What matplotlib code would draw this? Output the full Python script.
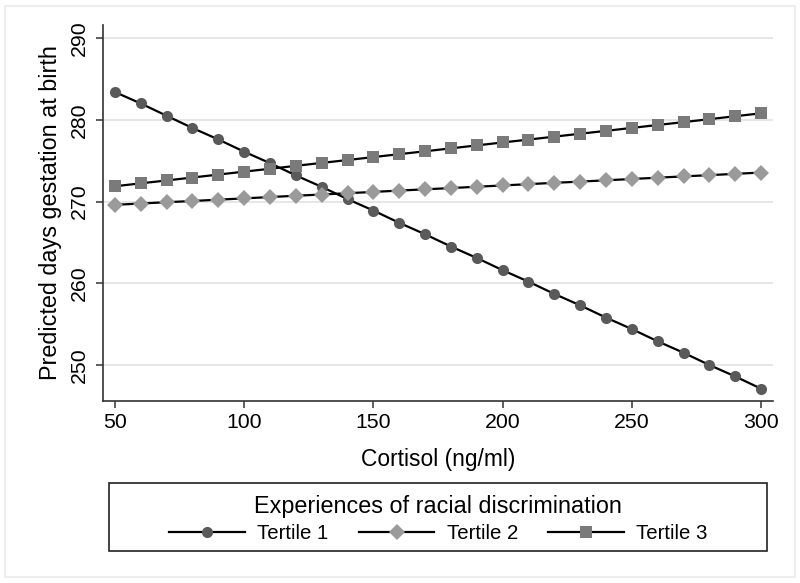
import numpy as np
import matplotlib
matplotlib.use("Agg")
import matplotlib.pyplot as plt
from matplotlib.patches import Rectangle

plt.rcParams['font.family'] = ['Liberation Sans', 'DejaVu Sans']

# === Data ===
cortisol = [50, 60, 70, 80, 90, 100, 110, 120, 130, 140, 150, 160, 170,
            180, 190, 200, 210, 220, 230, 240, 250, 260, 270, 280, 290, 300]

tertile1 = [283.4, 282.0, 280.5, 279.0, 277.6, 276.1, 274.7, 273.2, 271.8,
            270.3, 268.9, 267.4, 266.0, 264.5, 263.1, 261.6, 260.2, 258.7,
            257.3, 255.8, 254.4, 252.9, 251.5, 250.0, 248.6, 247.1]
tertile2 = [269.60, 269.76, 269.92, 270.07, 270.23, 270.39, 270.55, 270.71,
            270.86, 271.02, 271.18, 271.34, 271.50, 271.65, 271.81, 271.97,
            272.13, 272.29, 272.44, 272.60, 272.76, 272.92, 273.08, 273.23,
            273.39, 273.55]
tertile3 = [271.87, 272.23, 272.58, 272.94, 273.30, 273.66, 274.01, 274.37,
            274.73, 275.08, 275.44, 275.80, 276.15, 276.51, 276.87, 277.23,
            277.58, 277.94, 278.30, 278.65, 279.01, 279.37, 279.72, 280.08,
            280.44, 280.80]

series_labels = ["Tertile 1", "Tertile 2", "Tertile 3"]
x_ticks = [50, 100, 150, 200, 250, 300]
y_ticks = [250, 260, 270, 280, 290]

# === Figure ===
fig = plt.figure(figsize=(8, 5.83), dpi=100)
ax = fig.add_axes([0.12875, 0.3122, 0.8375, 0.6449])

styles = [
    dict(marker="o", markerfacecolor="#5a5a5a", markersize=8),
    dict(marker="D", markerfacecolor="#9a9a9a", markersize=8),
    dict(marker="s", markerfacecolor="#7a7a7a", markersize=8),
]
handles = []
for y, lab, st in zip([tertile1, tertile2, tertile3], series_labels, styles):
    h, = ax.plot(cortisol, y, color="black", linewidth=1.6,
                 markeredgewidth=0, label=lab, **st)
    handles.append(h)

ax.set_xlim(45.4, 304.6)
ax.set_ylim(245.6, 291.6)
ax.set_xticks(x_ticks)
ax.set_yticks(y_ticks)
ax.grid(axis="y", color="#e2e2e2", linewidth=1.2)
ax.set_axisbelow(True)

for s in ["top", "right"]:
    ax.spines[s].set_visible(False)
for s in ["left", "bottom"]:
    ax.spines[s].set_color("#333333")
    ax.spines[s].set_linewidth(1.2)

ax.tick_params(axis="both", direction="out", length=5, width=1.1,
               color="#333333", labelsize=15.3)
ax.tick_params(axis="y", pad=5)
ax.tick_params(axis="x", pad=4)
for t in ax.get_yticklabels():
    t.set_rotation(90)
    t.set_va("center")

ax.set_xlabel("Cortisol (ng/ml)", fontsize=16.4, labelpad=11)
ax.set_ylabel("Predicted days gestation at birth", fontsize=16.8, labelpad=6)

# Legend box
fig.patches.append(Rectangle((109 / 800, 1 - 551 / 583), 658 / 800, 68 / 583,
                             transform=fig.transFigure, fill=False,
                             edgecolor="#222222", linewidth=1.2))
leg = fig.legend(handles=handles, labels=series_labels, loc="center",
                 bbox_to_anchor=(0.548, 1 - 519 / 583), ncol=3,
                 frameon=False, fontsize=14.7, numpoints=1,
                 handlelength=3.7, handletextpad=0.6, columnspacing=1.5,
                 title="Experiences of racial discrimination",
                 title_fontproperties={"size": 16.8})
leg._legend_box.sep = 4

# faint outer border
fig.patches.append(Rectangle((5 / 800, 6 / 583), 790 / 800, 571 / 583,
                             transform=fig.transFigure, fill=False,
                             edgecolor="#eeeeee", linewidth=1.5))

fig.savefig("out.png", dpi=100)
